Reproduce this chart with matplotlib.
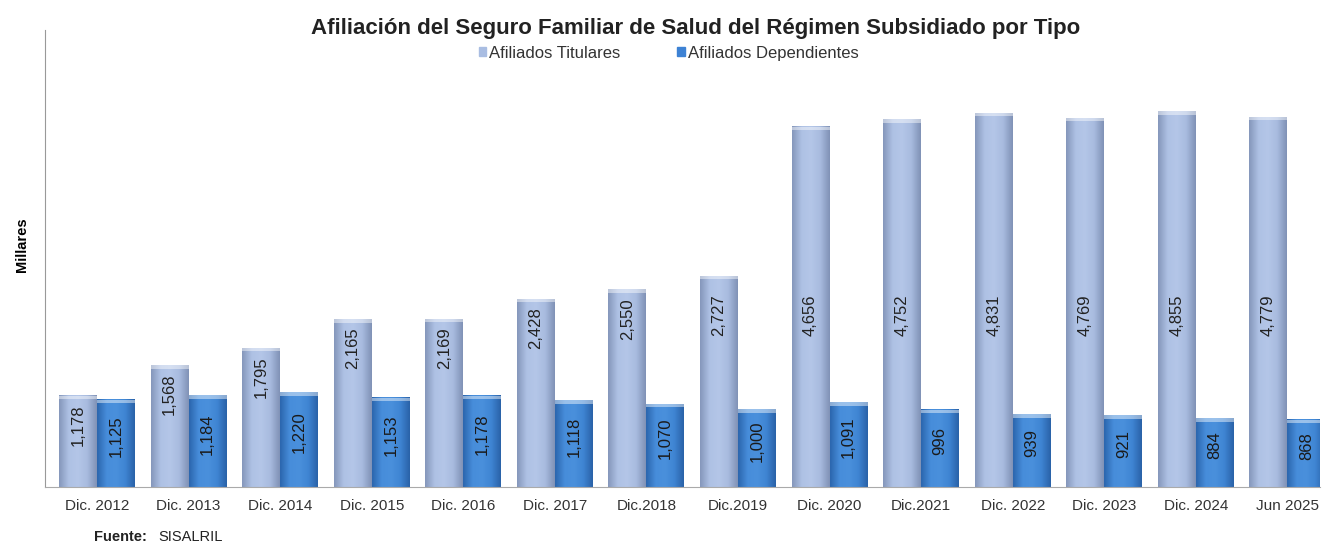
import numpy as np
import matplotlib.pyplot as plt
from matplotlib.colors import LinearSegmentedColormap

plt.rcParams['font.family'] = ['Liberation Sans', 'DejaVu Sans']

periodos = ["Dic. 2012", "Dic. 2013", "Dic. 2014", "Dic. 2015", "Dic. 2016",
            "Dic. 2017", "Dic.2018", "Dic.2019", "Dic. 2020", "Dic.2021",
            "Dic. 2022", "Dic. 2023", "Dic. 2024", "Jun 2025"]
titulares = [1178, 1568, 1795, 2165, 2169, 2428, 2550, 2727, 4656, 4752,
             4831, 4769, 4855, 4779]
dependientes = [1125, 1184, 1220, 1153, 1178, 1118, 1070, 1000, 1091, 996,
                939, 921, 884, 868]

def shade(ax, bars, cmap):
    # horizontal gradient painted over each bar
    grad = np.linspace(0, 1, 64).reshape(1, -1)
    for r in bars:
        x0, w, h = r.get_x(), r.get_width(), r.get_height()
        ax.imshow(grad, cmap=cmap, aspect='auto', extent=(x0, x0 + w, 0, h),
                  zorder=2, interpolation='bicubic')
        ax.bar(x0 + w/2, 45, w, bottom=h - 45, color='white', alpha=0.45,
               linewidth=0, zorder=3)

def main():
    fig = plt.figure(figsize=(13.27, 5.5), dpi=100)
    ax = fig.add_axes([0.034, 0.115, 0.961, 0.83])

    x = np.arange(len(periodos))
    w = 0.415
    c_tit = '#A9BDE2'
    c_dep = '#3D82D4'
    cm_tit = LinearSegmentedColormap.from_list(
        'tit', ['#8597BB', '#AEC1E4', '#B4C6E8', '#A8BBDF', '#8092B6'])
    cm_dep = LinearSegmentedColormap.from_list(
        'dep', ['#2B66AE', '#478DDA', '#4A90DC', '#3F85D3', '#2A62A8'])

    b1 = ax.bar(x - w/2, titulares, w, color=c_tit, linewidth=0, zorder=1,
                label='Afiliados Titulares')
    b2 = ax.bar(x + w/2, dependientes, w, color=c_dep, linewidth=0, zorder=1,
                label='Afiliados Dependientes')
    shade(ax, b1, cm_tit)
    shade(ax, b2, cm_dep)

    for xi, v in zip(x, titulares):
        ypos = min(v, 2600) - 110
        ax.text(xi - w/2, ypos, f"{v:,}", rotation=90, ha='center', va='top',
                fontsize=12, color='#222222', zorder=4)
    for xi, v in zip(x, dependientes):
        ax.text(xi + w/2, v*0.5 + 90, f"{v:,}", rotation=90, ha='center',
                va='center', fontsize=12, color='#1a1a1a', zorder=4)

    ax.set_xlim(-0.568, 13.36)
    ax.set_ylim(0, 5900)
    ax.set_xticks(x)
    ax.set_xticklabels(periodos, fontsize=11, color='#333333')
    ax.tick_params(axis='x', length=0, pad=9)
    ax.set_yticks([])
    for s in ['top', 'right']:
        ax.spines[s].set_visible(False)
    ax.spines['left'].set_color('#999999')
    ax.spines['bottom'].set_color('#aaaaaa')
    ax.set_ylabel('Millares', fontsize=10.5, fontweight='bold')
    ax.yaxis.set_label_coords(-0.013, 0.53)

    fig.text(0.524, 0.948, 'Afiliación del Seguro Familiar de Salud del Régimen Subsidiado por Tipo',
             ha='center', va='center', fontsize=16, fontweight='bold', color='#222222')
    handles = [plt.Rectangle((0, 0), 1, 1, color=c_tit),
               plt.Rectangle((0, 0), 1, 1, color=c_dep)]
    fig.legend(handles, ['Afiliados Titulares', 'Afiliados Dependientes'],
               loc='center', bbox_to_anchor=(0.504, 0.903), ncol=2, frameon=False,
               fontsize=12, handlelength=0.45, handleheight=0.45,
               handletextpad=0.2, columnspacing=3.4, labelcolor='#333333')

    fig.text(0.071, 0.017, 'Fuente:', fontsize=10.5, fontweight='bold', color='#222222')
    fig.text(0.119, 0.017, 'SISALRIL', fontsize=10.5, color='#222222')

    fig.savefig('out.png', dpi=100)

if __name__ == '__main__':
    main()
